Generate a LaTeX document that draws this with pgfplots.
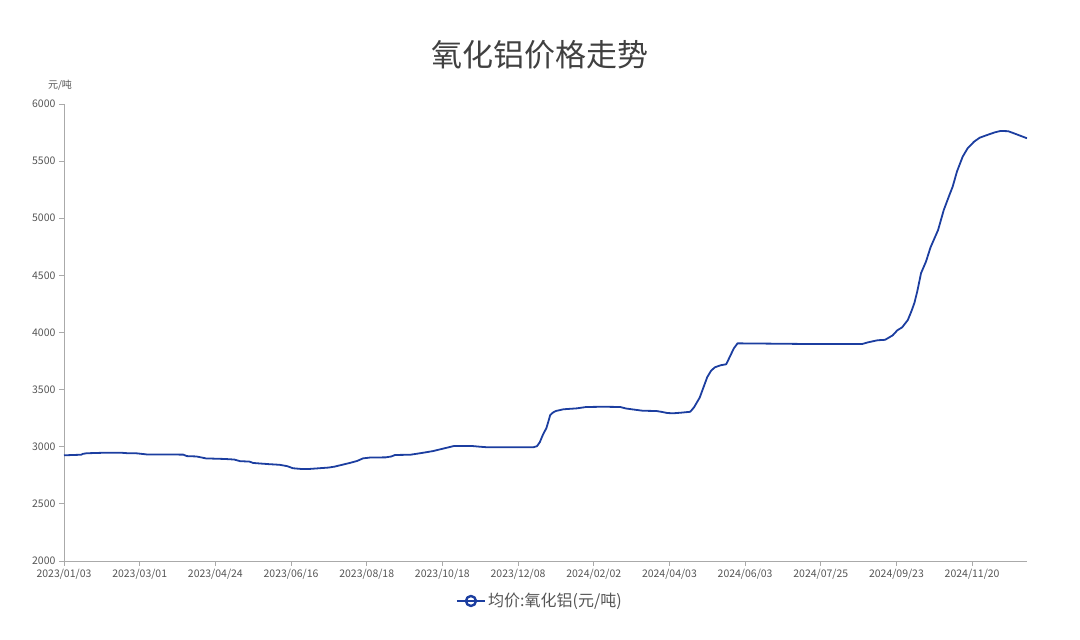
\documentclass[border=0pt]{standalone}
\usepackage{pgfplots}
\pgfplotsset{compat=1.18}
\usepackage{fontspec}
\setmainfont{Noto Sans CJK SC}

\definecolor{linec}{RGB}{28,62,160}
\definecolor{axc}{RGB}{170,170,170}
\definecolor{txt}{RGB}{85,85,85}
\definecolor{ttl}{RGB}{64,64,64}

\begin{document}
\begin{tikzpicture}[x=1pt,y=1pt]
\path[use as bounding box] (0,0) rectangle (1080,640);
\node[font=\fontsize{31}{35}\selectfont, text=ttl] at (540,585) {氧化铝价格走势};
\node[font=\fontsize{10}{12}\selectfont, text=txt] at (60,555) {元/吨};

\begin{axis}[
    at={(64pt,79pt)}, anchor=south west,
    width=963pt, height=457pt, scale only axis,
    xmin=0, xmax=509, ymin=2000, ymax=6000,
    axis x line*=bottom, axis y line*=left,
    axis line style={axc, line width=0.8pt, -},
    tick style={axc, line width=0.8pt},
    major tick length=5pt, tick align=outside,
    ytick={2000,2500,...,6000},
    xtick={0,40,...,480},
    xticklabels={2023/01/03,2023/03/01,2023/04/24,2023/06/16,2023/08/18,2023/10/18,2023/12/08,2024/02/02,2024/04/03,2024/06/03,2024/07/25,2024/09/23,2024/11/20},
    ticklabel style={font=\fontsize{10.5}{12}\selectfont, text=txt},
    /pgf/number format/assume math mode=true,
    yticklabel style={/pgf/number format/1000 sep={}},
    legend style={at={(0.494,-0.0875)}, anchor=center, draw=none, fill=none,
        font=\fontsize{16}{18}\selectfont, text=txt},
    legend image code/.code={
        \draw[linec, line width=2.4pt] (0pt,0pt) -- (28pt,0pt);
        \draw[linec, line width=2.4pt] (14pt,0pt) circle (5pt);
    },
]
\addplot[linec, line width=1.8pt, line join=round] coordinates {
(0,2925)(5,2928)(9,2930)(10,2938)(12,2943)(18,2946)(23,2948)(30,2948)(33,2944)(38,2943)
(42,2936)(44,2932)(55,2932)(63,2931)(65,2918)(70,2915)(73,2905)(75,2898)(85,2893)(90,2888)
(93,2874)(98,2870)(100,2858)(108,2848)(114,2842)(118,2830)(121,2812)(125,2806)(130,2806)(135,2812)
(140,2818)(143,2826)(147,2842)(151,2858)(155,2876)(158,2898)(162,2906)(170,2907)(173,2915)(175,2928)
(183,2930)(187,2940)(190,2948)(195,2962)(199,2978)(202,2990)(206,3006)(216,3006)(220,3000)(224,2995)
(235,2995)(248,2995)(250,3005)(251.5,3040)(253,3100)(255,3165)(256,3220)(257,3278)(258.5,3300)(260,3313)
(264,3328)(271,3336)(276,3348)(285,3350)(294,3348)(297,3335)(300,3328)(306,3315)(313,3313)(316,3305)
(319,3295)(322,3293)(326,3298)(331,3306)(333,3345)(336,3430)(338,3520)(340,3610)(342,3665)(344,3695)
(347,3713)(350,3722)(352,3790)(354,3860)(356,3905)(370,3903)(389,3900)(422,3900)(425,3914)(430,3932)
(434,3936)(438,3975)(440.5,4020)(443,4045)(446,4109)(448,4190)(449.5,4260)(451,4360)(453,4520)(455.6,4620)
(458,4745)(462,4897)(465,5072)(468,5204)(469.7,5276)(472,5410)(475,5539)(477.6,5612)(481,5670)(484,5705)
(488,5729)(492,5752)(495,5764)(499,5762)(502,5744)(509,5700)
};
\addlegendentry{均价:氧化铝(元/吨)}
\end{axis}
\end{tikzpicture}
\end{document}
